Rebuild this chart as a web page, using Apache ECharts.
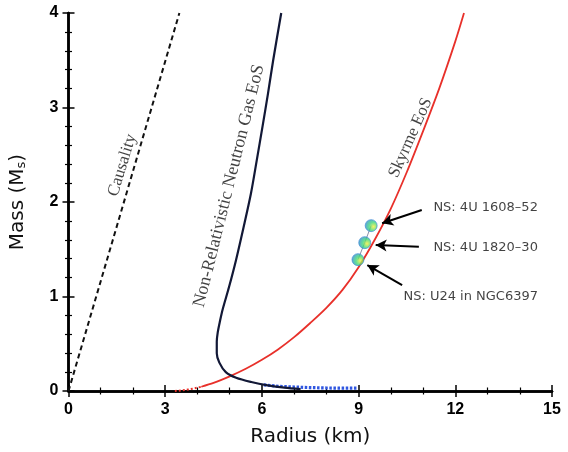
<!DOCTYPE html>
<html><head><meta charset="utf-8">
<script src="https://cdn.jsdelivr.net/npm/echarts@6/dist/echarts.min.js"></script>
<style>html,body{margin:0;padding:0;background:#fff}#c{width:568px;height:452px}</style>
</head><body><div id="c"></div><script>
// ---- data (Radius km, Mass Msun) ----
const xRange = [0, 15];
const yRange = [0, 4];
const causality = [[0, 0], [3.44, 4]];
const nrGas = [[7.2,0.02],[6.7,0.035],[6.18,0.06],[5.67,0.095],[5.2,0.14],[4.88,0.2],[4.68,0.3],[4.6,0.4],[4.6,0.52],[4.63,0.62],[4.7,0.74],[4.78,0.86],[4.98,1.1],[5.2,1.39],[5.43,1.73],[5.66,2.09],[5.84,2.44],[6.02,2.8],[6.19,3.15],[6.35,3.5],[6.6,4.0]];
const skyrme = [[4.12,0.045],[4.5,0.085],[5,0.155],[5.5,0.235],[6,0.33],[6.5,0.44],[7,0.57],[7.5,0.72],[8,0.88],[8.5,1.07],[9,1.31],[9.5,1.6],[10,1.93],[10.5,2.32],[11,2.75],[11.5,3.2],[12,3.7],[12.27,4.0]];
const skyrmeLow = [[3.3,0.0],[3.7,0.015],[4.12,0.045]];
const lowDensity = [[6.06,0.065],[6.5,0.05],[7.0,0.042],[7.5,0.036],[8.0,0.032],[8.5,0.03],[8.96,0.03]];
const nsPoints = [[9.39,1.75],[9.19,1.57],[8.98,1.39]];
const nsNames = ['NS: 4U 1608\u201352', 'NS: 4U 1820\u201330', 'NS: U24 in NGC6397'];
const nsLabelAt = [[11.32,1.94],[11.32,1.52],[10.39,0.995]];
const arrowFrom = [[10.96,1.915],[10.87,1.527],[10.35,1.12]];
const arrowTo = [[9.73,1.775],[9.53,1.545],[9.27,1.333]];
const curveNames = ['Causality', 'Non-Relativistic Neutron Gas EoS', 'Skyrme EoS'];
const curveNameAt = [[1.67,2.39],[4.98,2.17],[10.61,2.68]];
const curveNameRot = [73, 76, 66];

const chart = echarts.init(document.getElementById('c'));
const frameLine = {show: true, lineStyle: {color: '#000', width: 2.5}};
const tickMajor = {show: true, inside: true, length: 6, lineStyle: {color: '#000', width: 1.5}};
const tickMinor = {show: true, length: 3.5, lineStyle: {color: '#000', width: 1.2}};
const tickFont = {fontFamily: 'Liberation Sans', fontWeight: 'bold', fontSize: 16, color: '#000'};

const serifLabel = (i) => ({
  type: 'scatter', xAxisIndex: 0, yAxisIndex: 0, symbolSize: 0, silent: true, z: 5,
  data: [curveNameAt[i]],
  label: {show: true, position: 'inside', formatter: curveNames[i], rotate: curveNameRot[i],
    fontFamily: 'Liberation Serif', fontStyle: 'normal', fontSize: i === 1 ? 18 : 17, color: '#111'}
});

chart.setOption({
  animation: false,
  backgroundColor: '#fff',
  grid: {left: 67, right: 16, top: 13, bottom: 61, containLabel: false},
  xAxis: [
    {type: 'value', min: xRange[0], max: xRange[1], interval: 3, position: 'bottom',
     axisLine: frameLine, axisTick: tickMajor, minorTick: Object.assign({splitNumber: 3}, tickMinor),
     splitLine: {show: false}, minorSplitLine: {show: false},
     axisLabel: Object.assign({margin: 11}, tickFont),
     name: 'Radius (km)', nameLocation: 'middle', nameGap: 36,
     nameTextStyle: {fontFamily: 'DejaVu Sans', fontSize: 20, color: '#111'}},
    {type: 'value', min: xRange[0], max: xRange[1], interval: 3, position: 'top',
     axisLine: frameLine, axisTick: tickMajor, minorTick: Object.assign({splitNumber: 3}, tickMinor),
     splitLine: {show: false}, axisLabel: {show: false}}
  ],
  yAxis: [
    {type: 'value', min: yRange[0], max: yRange[1], interval: 1, position: 'left',
     axisLine: frameLine, axisTick: tickMajor, minorTick: Object.assign({splitNumber: 5}, tickMinor),
     splitLine: {show: false}, minorSplitLine: {show: false},
     axisLabel: Object.assign({margin: 10}, tickFont),
     name: '{a|Mass (M}{b|s}{a|)}', nameLocation: 'middle', nameGap: 40,
     nameTextStyle: {rich: {a: {fontFamily: 'DejaVu Sans', fontSize: 20, color: '#111'},
                            b: {fontFamily: 'DejaVu Sans', fontSize: 13, color: '#111', verticalAlign: 'bottom', padding: [8, 0, 0, 0]}}}},
    {type: 'value', min: yRange[0], max: yRange[1], interval: 1, position: 'right',
     axisLine: frameLine, axisTick: tickMajor, minorTick: Object.assign({splitNumber: 5}, tickMinor),
     splitLine: {show: false}, axisLabel: {show: false}}
  ],
  series: [
    {type: 'line', data: causality, symbol: 'none', lineStyle: {color: '#111', width: 2, type: [5, 3.5]}, z: 3},
    {type: 'line', data: lowDensity, symbol: 'none', lineStyle: {color: '#2f56e0', width: 3.2, type: [2.5, 1.6]}, z: 2},
    {type: 'line', data: skyrmeLow, symbol: 'none', smooth: true, lineStyle: {color: '#e8302a', width: 2, type: [2, 2]}, z: 2},
    {type: 'line', data: skyrme, symbol: 'none', smooth: 0.3, lineStyle: {color: '#e8302a', width: 1.8}, z: 3},
    {type: 'line', data: nrGas, symbol: 'none', smooth: 0.3, lineStyle: {color: '#121836', width: 2.2}, z: 4},
    {type: 'line', data: nsPoints, symbol: 'none', lineStyle: {color: '#8890a8', width: 1}, z: 5},
    {type: 'scatter', data: nsPoints, symbolSize: 12, z: 6,
     itemStyle: {borderColor: '#3a86d6', borderWidth: 0.8,
       color: {type: 'radial', x: 0.68, y: 0.58, r: 0.75,
         colorStops: [{offset: 0, color: '#f2ef3c'}, {offset: 0.45, color: '#3ed77a'}, {offset: 1, color: '#2e7ee0'}]}},
     markLine: {silent: true, symbol: ['none', 'arrow'], symbolSize: [9, 11],
       lineStyle: {color: '#000', width: 2, type: 'solid'}, label: {show: false},
       data: arrowFrom.map((p, i) => [{coord: p}, {coord: arrowTo[i]}])}},
    {type: 'scatter', data: nsLabelAt.map((p, i) => ({value: p, name: nsNames[i]})), symbolSize: 0, silent: true, z: 6,
     label: {show: true, position: 'right', distance: 0, formatter: '{b}',
       fontFamily: 'DejaVu Sans', fontSize: 13, color: '#111'}},
    serifLabel(0), serifLabel(1), serifLabel(2)
  ]
});
</script></body></html>
